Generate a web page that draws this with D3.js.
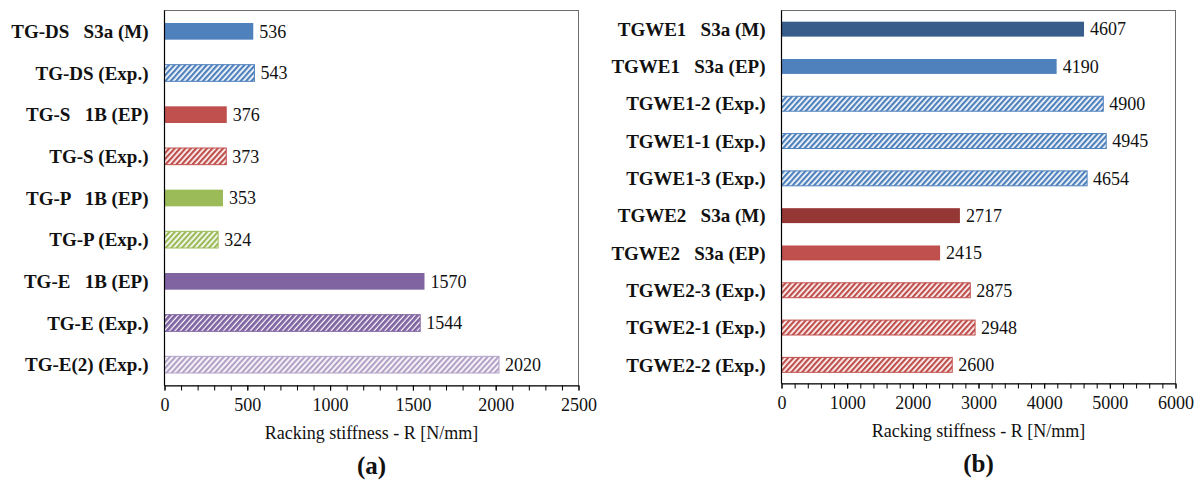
<!DOCTYPE html>
<html>
<head>
<meta charset="utf-8">
<style>
  body { margin: 0; background: #fff; }
</style>
</head>
<body>
<svg width="1204" height="481"></svg>
<script src="https://d3js.org/d3.v7.min.js"></script>
<script>
// panel (a)
var catsA = ["TG-DS   S3a (M)", "TG-DS (Exp.)", "TG-S   1B (EP)", "TG-S (Exp.)",
             "TG-P   1B (EP)", "TG-P (Exp.)", "TG-E   1B (EP)", "TG-E (Exp.)", "TG-E(2) (Exp.)"];
var valsA = [536, 543, 376, 373, 353, 324, 1570, 1544, 2020];
var ticksA = [0, 500, 1000, 1500, 2000, 2500];

// panel (b)
var catsB = ["TGWE1   S3a (M)", "TGWE1   S3a (EP)", "TGWE1-2 (Exp.)", "TGWE1-1 (Exp.)", "TGWE1-3 (Exp.)",
             "TGWE2   S3a (M)", "TGWE2   S3a (EP)", "TGWE2-3 (Exp.)", "TGWE2-1 (Exp.)", "TGWE2-2 (Exp.)"];
var valsB = [4607, 4190, 4900, 4945, 4654, 2717, 2415, 2875, 2948, 2600];
var ticksB = [0, 1000, 2000, 3000, 4000, 5000, 6000];

// bar looks: solid fill or hatch pattern id
var styleA = ["blue", "h-blue", "red", "h-red", "green", "h-green", "purple", "h-purpleDense", "h-lilac"];
var styleB = ["navy", "blue", "h-blue", "h-blue", "h-blue", "maroon", "red", "h-red", "h-red", "h-red"];

var colors = {
  blue: "#4f81bd", red: "#c0504d", green: "#9bbb59", purple: "#8064a2",
  purpleDense: "#8064a2", lilac: "#b3a2c7", navy: "#385d8a", maroon: "#953735"
};

var FONT = "'Liberation Serif', 'Times New Roman', 'DejaVu Serif', serif";

var svg = d3.select("svg").attr("font-family", FONT);
var defs = svg.append("defs");

Object.keys(colors).forEach(function(k) {
  var dense = k === "purpleDense";
  var p = defs.append("pattern")
    .attr("id", "h-" + k)
    .attr("patternUnits", "userSpaceOnUse")
    .attr("width", 4).attr("height", 10)
    .attr("patternTransform", "rotate(42)");
  p.append("rect").attr("width", 4).attr("height", 10).attr("fill", "#fff");
  p.append("rect").attr("width", dense ? 2.8 : 2.3).attr("height", 10).attr("fill", colors[k]);
});

function fillOf(s) {
  return s.indexOf("h-") === 0 ? "url(#" + s + ")" : colors[s];
}
function strokeOf(s) {
  return s.indexOf("h-") === 0 ? colors[s.slice(2)] : "none";
}

function panel(opt) {
  var g = svg.append("g");
  var x = d3.scaleLinear().domain([0, opt.max]).range([opt.left, opt.right]);
  var y = d3.scaleBand().domain(opt.cats).range([opt.top, opt.bottom]).paddingInner(0.6).paddingOuter(0.3);

  // frame
  g.append("rect")
    .attr("x", opt.left).attr("y", opt.top)
    .attr("width", opt.right - opt.left).attr("height", opt.bottom - opt.top)
    .attr("fill", "none").attr("stroke", "#6d6d6d").attr("stroke-width", 1);

  g.selectAll(".bar").data(opt.vals).enter().append("rect")
    .attr("x", x(0))
    .attr("y", function(d, i) { return y(opt.cats[i]); })
    .attr("width", function(d) { return x(d) - x(0); })
    .attr("height", y.bandwidth())
    .attr("fill", function(d, i) { return fillOf(opt.styles[i]); })
    .attr("stroke", function(d, i) { return strokeOf(opt.styles[i]); })
    .attr("stroke-width", 1);

  g.selectAll(".val").data(opt.vals).enter().append("text")
    .attr("x", function(d) { return x(d) + 6; })
    .attr("y", function(d, i) { return y(opt.cats[i]) + y.bandwidth() / 2; })
    .attr("dy", "0.35em")
    .style("font-family", FONT)
    .attr("font-size", 18)
    .attr("fill", "#111")
    .text(function(d) { return d; });

  g.selectAll(".cat").data(opt.cats).enter().append("text")
    .attr("x", opt.left - 16)
    .attr("y", function(d) { return y(d) + y.bandwidth() / 2; })
    .attr("dy", "0.35em")
    .attr("text-anchor", "end")
    .style("font-family", FONT)
    .attr("font-size", 19)
    .attr("font-weight", "bold")
    .style("white-space", "pre")
    .attr("fill", "#111")
    .text(function(d) { return d; });

  // minor ticks
  var ax = g.append("g").attr("transform", "translate(0," + opt.bottom + ")");
  ax.call(d3.axisBottom(x).tickValues(d3.range(0, opt.max + 1, opt.minor)).tickSize(5).tickFormat(""));
  ax.select(".domain").remove();
  ax.selectAll("line").attr("stroke", "#000");
  var ax2 = g.append("g").attr("transform", "translate(0," + opt.bottom + ")");
  ax2.call(d3.axisBottom(x).tickValues(opt.ticks).tickFormat(d3.format("d"))
    .tickSize(5).tickPadding(8).tickSizeOuter(0));
  ax2.attr("font-family", FONT);
  ax2.selectAll("text").attr("font-size", 18).attr("fill", "#111")
    .style("font-family", FONT);
  ax2.select(".domain").attr("stroke", "#000");
  ax2.selectAll("line").attr("stroke", "#000");

  g.append("line")
    .attr("x1", opt.left).attr("x2", opt.left)
    .attr("y1", opt.top).attr("y2", opt.bottom)
    .attr("stroke", "#000").attr("stroke-width", 1.2);

  var cx = (opt.left + opt.right) / 2;
  g.append("text").attr("x", cx).attr("y", opt.bottom + 53)
    .attr("text-anchor", "middle").attr("font-size", 18).attr("fill", "#111")
    .style("font-family", FONT)
    .text("Racking stiffness - R [N/mm]");
  g.append("text").attr("x", cx).attr("y", opt.bottom + 88)
    .attr("text-anchor", "middle").attr("font-size", 25).attr("font-weight", "bold").attr("fill", "#111")
    .style("font-family", FONT)
    .text(opt.label);
}

panel({ cats: catsA, vals: valsA, styles: styleA, ticks: ticksA, max: 2500, minor: 100,
        left: 164.5, right: 578.5, top: 10.5, bottom: 385.5, label: "(a)" });
panel({ cats: catsB, vals: valsB, styles: styleB, ticks: ticksB, max: 6000, minor: 200,
        left: 781.5, right: 1175.5, top: 10.5, bottom: 383.5, label: "(b)" });
</script>
</body>
</html>
